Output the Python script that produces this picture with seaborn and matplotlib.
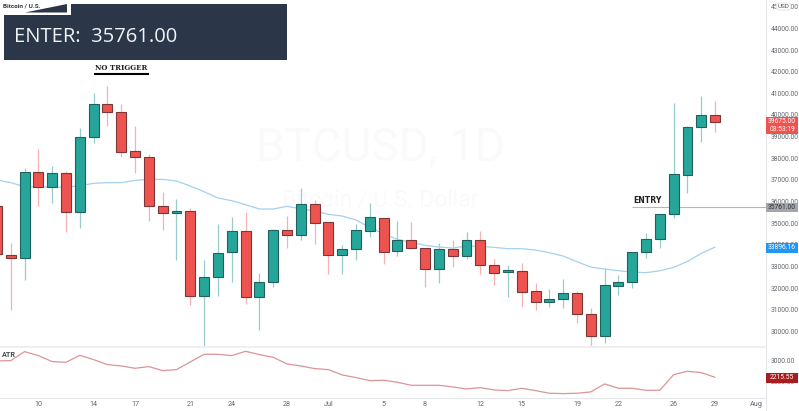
import matplotlib
matplotlib.use("Agg")
import matplotlib.pyplot as plt
import numpy as np
import pandas as pd
import seaborn as sns
from matplotlib.patches import Polygon, Rectangle, FancyBboxPatch

# candles from Jun 7 to Jul 29
opens = [35794, 33545, 33391, 37380, 36687, 37303, 35532, 38995, 40506, 40136, 38319, 38073, 35809,
         35486, 35563, 31636, 32529, 33653, 34623, 31574, 32283, 34685, 34469, 35871, 35039, 33530,
         33807, 34654, 35224, 33699, 34208, 33853, 32883, 33792, 33499, 34238, 33068, 32729, 32791,
         31881, 31358, 31481, 31789, 30818, 29787, 32097, 32282, 33668, 34284, 35408, 37240, 39427, 39997]
closes = [33576, 33391, 37380, 36687, 37303, 35532, 38997, 40506, 40122, 38304, 38073, 35809, 35486,
          35563, 31636, 32529, 33638, 34623, 31574, 32267, 34685, 34469, 35886, 35024, 33545, 33792,
          34670, 35270, 33684, 34208, 33869, 32883, 33792, 33499, 34238, 33083, 32714, 32822, 31836,
          31358, 31512, 31758, 30818, 29787, 32128, 32282, 33668, 34284, 35408, 37256, 39443, 39997, 39675]
highs = [35794, 34069, 37534, 38412, 37657, 37426, 39397, 41028, 41337, 40506, 39490, 38196, 36425,
         36102, 35717, 33299, 34962, 35270, 35501, 32714, 34716, 35332, 36610, 36071, 35039, 33977,
         34962, 35948, 35224, 35116, 35055, 33853, 34100, 34223, 34593, 34654, 33330, 33083, 33176,
         32251, 31943, 32420, 31881, 31080, 32913, 32605, 33668, 34530, 35408, 40567, 39504, 40890, 40644]
lows = [33576, 30989, 32375, 35794, 35917, 34608, 34762, 38718, 39490, 38073, 37303, 35116, 34685,
        33299, 31220, 29295, 31636, 32267, 31266, 30065, 32036, 33853, 34223, 34038, 32652, 32652,
        33299, 34346, 33114, 33484, 33792, 32067, 32252, 32991, 33330, 32652, 32144, 31574, 31112,
        30988, 31142, 31080, 30372, 29325, 29448, 31666, 31989, 33406, 33852, 35254, 36378, 38750, 39227]
ma_line = [36995, 36872, 36687, 36672, 36672, 36656, 36733, 36841, 36872, 36872, 36980, 37026, 37026,
           36949, 36718, 36456, 36163, 36040, 35855, 35655, 35655, 35778, 35670, 35563, 35409, 35332,
           35147, 34808, 34500, 34254, 34115, 33977, 33900, 33853, 33946, 33930, 33884, 33823, 33823,
           33760, 33637, 33483, 33221, 32975, 32882, 32805, 32744, 32713, 32805, 32959, 33236, 33606, 33896]
atr_line = [3002, 3018, 3451, 3259, 2970, 2938, 3275, 3066, 2826, 2762, 2650, 2730, 2537,
            2585, 2954, 3322, 3322, 3259, 3467, 3307, 3179, 2858, 2762, 2634, 2585, 2329,
            2201, 2056, 2072, 1976, 1832, 1832, 1832, 1752, 1655, 1720, 1607, 1575, 1687,
            1576, 1448, 1432, 1448, 1512, 1897, 1688, 1688, 1592, 1592, 2345, 2506, 2441, 2216]

date_labels = ["10", "14", "17", "21", "24", "28", "Jul", "5", "8", "12", "15", "19", "22", "26", "29", "Aug"]
date_days = [3, 7, 10, 14, 17, 21, 24, 28, 31, 35, 38, 42, 45, 49, 52, 55]
price_ticks = [30000, 31000, 32000, 33000, 34000, 35000, 36000, 37000, 38000, 39000, 40000, 41000, 42000, 43000, 44000, 45000]

last_price = 39675.00
entry_price = 35761.00
ma_last = 33896.16
atr_last = 2215.55

df = pd.DataFrame({"day": np.arange(len(opens)), "open": opens, "close": closes, "high": highs,
                   "low": lows, "ma": ma_line, "atr": atr_line})

sns.set_theme(style="white")
plt.rcParams["font.family"] = ["Roboto", "DejaVu Sans"]

W, H = 799, 411
fig = plt.figure(figsize=(W / 100, H / 100), dpi=100, facecolor="white")
ax = fig.add_axes([0, (H - 346) / H, 765.5 / W, 346 / H])
ax2 = fig.add_axes([0, (H - 398) / H, 765.5 / W, 51 / H], sharex=ax)

GREEN = "#26a69a"
RED = "#ef5350"
LABEL = "#62676d"
up = df["close"] >= df["open"]

# wicks first, bodies over them
ax.vlines(df["day"][up], df["low"][up], df["high"][up], color="#96cdc8", lw=0.9, zorder=2)
ax.vlines(df["day"][~up], df["low"][~up], df["high"][~up], color="#f6b2b0", lw=0.9, zorder=2)
ax.bar(df["day"][up], (df["close"] - df["open"])[up], bottom=df["open"][up], width=0.72,
       color=GREEN, edgecolor="#22605d", lw=0.8, zorder=3)
ax.bar(df["day"][~up], (df["open"] - df["close"])[~up], bottom=df["close"][~up], width=0.72,
       color=RED, edgecolor="#7a3736", lw=0.8, zorder=3)
sns.lineplot(data=df, x="day", y="ma", ax=ax, color="#a5d0ee", lw=0.9, zorder=2.5)
sns.lineplot(data=df, x="day", y="atr", ax=ax2, color="#dc9496", lw=0.9)

ax.hlines(entry_price, 46, 56, color="#b4b7bc", lw=0.8, zorder=1)

ax.set_xlim(0.22, 55.65)
ax.set_ylim(29328, 45310)
ax2.set_ylim(1220, 3673)
ax.set_xlabel("")
ax.set_ylabel("")
ax2.set_xlabel("")
ax2.set_ylabel("")

ax.yaxis.tick_right()
ax.set_yticks(price_ticks)
ax.set_yticklabels([f"{p:.2f}" for p in price_ticks], fontsize=4.9, color=LABEL)
ax.tick_params(axis="y", length=0, pad=4)
ax.tick_params(axis="x", length=0, labelbottom=False)
ax2.yaxis.tick_right()
ax2.set_yticks([2000, 3000])
ax2.set_yticklabels(["2000.00", "3000.00"], fontsize=4.9, color=LABEL)
ax2.tick_params(axis="y", length=0, pad=4)
ax2.set_xticks(date_days)
ax2.set_xticklabels(date_labels, fontsize=5.2, color=LABEL)
ax2.tick_params(axis="x", length=0, pad=2.5)

for a in (ax, ax2):
    for side in a.spines:
        a.spines[side].set_visible(False)
    a.spines["right"].set_visible(True)
    a.spines["right"].set_color("#e6e7ea")
    a.spines["right"].set_linewidth(0.8)
ax2.spines["bottom"].set_visible(True)
ax2.spines["bottom"].set_color("#e6e7ea")
ax2.spines["bottom"].set_linewidth(0.8)

# overlay in pixel coordinates for annotations
ov = fig.add_axes([0, 0, 1, 1], zorder=10)
ov.set_xlim(0, W)
ov.set_ylim(H, 0)
ov.axis("off")
ov.patch.set_alpha(0)

ov.plot([766, 766], [398, 411], color="#e6e7ea", lw=0.8)
ov.plot([0, 766], [346.5, 346.5], color="#eeeff1", lw=1.4)

# header box
ov.add_patch(Rectangle((4, 4), 283, 56, fc="#2b3648", ec="none"))
ov.add_patch(Rectangle((0, 0), 71, 15, fc="white", ec="none"))
ov.add_patch(Polygon([(25, 12.5), (67, 4), (67, 12.5)], fc="#2b3648", ec="none"))
ov.text(14, 37, "ENTER:  35761.00", color="#f0f2f5", fontsize=14.5, va="center", ha="left",
        family=["Open Sans", "DejaVu Sans"])
ov.text(3, 6.5, "Bitcoin / U.S.", color="#333840", fontsize=4.6, va="center", ha="left", fontweight="bold")

# watermark sits under the candles
ax.text(0.497, 0.428 + 0.145, "BTCUSD, 1D", color="#fafafb", fontsize=33, ha="center", va="center",
        transform=ax.transAxes, zorder=0)
ax.text(0.497, 0.422, "Bitcoin / U.S. Dollar", color="#fafafb", fontsize=16.5, ha="center", va="center",
        transform=ax.transAxes, zorder=0)

ov.text(121, 68, "NO TRIGGER", color="#222222", fontsize=5.0, fontweight="bold", ha="center", va="center",
        family=["DejaVu Serif"])
ov.plot([94, 149], [74.5, 74.5], color="black", lw=1.5, solid_capstyle="butt")
ov.text(647.5, 200.5, "ENTRY", color="#222222", fontsize=5.6, fontweight="bold", ha="center", va="center",
        family=["DejaVu Sans"])
ov.text(2, 354.5, "ATR", color="#444a50", fontsize=5.2, fontweight="bold", ha="left", va="center")

# price tags on the axis
def tag(y0, y1, color, lines, text_color="white"):
    ov.add_patch(Rectangle((766, y0), 32, y1 - y0, fc=color, ec="none"))
    step = (y1 - y0) / len(lines)
    for i, s in enumerate(lines):
        ov.text(782, y0 + step * (i + 0.5), s, color=text_color, fontsize=4.9, ha="center", va="center")

tag(117, 134, RED, [f"{last_price:.2f}", "03:53:19"])
tag(202.5, 211.5, "#a3a6ab", [f"{entry_price:.2f}"], "#2f3338")
tag(242.5, 252.5, "#2196f3", [f"{ma_last:.2f}"])
tag(372.5, 382.5, "#a81c1f", [f"{atr_last:.2f}"])

ov.add_patch(FancyBboxPatch((776, 3), 15, 7, boxstyle="round,pad=0,rounding_size=3.5", fc="white", ec="#e0e2e6", lw=0.6))
ov.text(783.5, 6.5, "USD", color="#555a60", fontsize=4.6, ha="center", va="center")

fig.savefig("out.png", dpi=100)
